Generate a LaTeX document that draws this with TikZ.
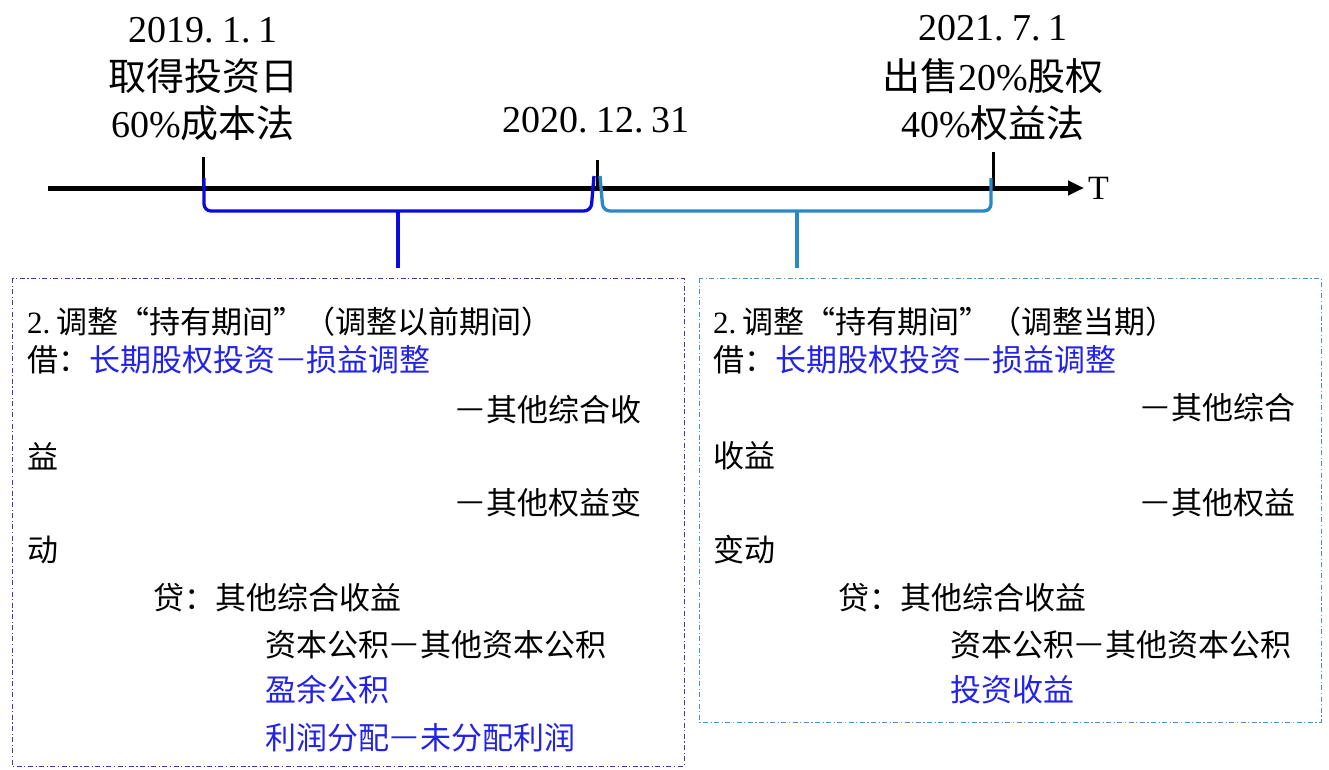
\documentclass[tikz,border=0pt]{standalone}
\usepackage{fontspec}
\usepackage{graphicx}
\setmainfont{Liberation Serif}
\newfontfamily\cjk{Noto Sans CJK SC}
\usetikzlibrary{arrows.meta}
\definecolor{bracea}{HTML}{0A0AE0}
\definecolor{braceb}{HTML}{2B88C8}
\definecolor{boxa}{HTML}{3A3AA0}
\definecolor{boxb}{HTML}{4F8FC8}
\definecolor{textblue}{HTML}{2222E8}
\newcommand{\pd}{.\hspace{0.22em}}
\newcommand{\dsh}{\makebox[1em][c]{\raisebox{0.1em}{—}}}
\begin{document}
\begin{tikzpicture}[x=1pt,y=-1pt,
  lbl/.style={font=\fontsize{38}{40}\selectfont, inner sep=0, anchor=center},
  txt/.style={font=\cjk\fontsize{31}{33}\selectfont, inner sep=0, anchor=west},
  bluetxt/.style={txt, text=textblue},
  tickline/.style={line width=3pt, black},
  bracepath/.style={line width=3.3pt, rounded corners=7pt},
  boxline/.style={line width=0.9pt, dash pattern=on 5pt off 2.5pt on 1.2pt off 2.5pt}]
\useasboundingbox (0,0) rectangle (1329,769);

% timeline
\coordinate (ax0) at (48,188);
\coordinate (ax1) at (1084,188);
\draw[line width=5pt, -{Triangle[length=16pt,width=14pt]}] (ax0) -- (ax1);
\node[font=\fontsize{34}{36}\selectfont, inner sep=0, anchor=west] (T) at (1088,188) {T};

% ticks
\coordinate (t1a) at (203,157); \coordinate (t1b) at (203,189);
\coordinate (t2a) at (597,160); \coordinate (t2b) at (597,189);
\coordinate (t3a) at (993,152); \coordinate (t3b) at (993,189);
\draw[tickline] (t1a) -- (t1b);
\draw[tickline] (t2a) -- (t2b);
\draw[tickline] (t3a) -- (t3b);

% labels
\node[lbl] (d1) at (203,30) {2019\pd 1\pd 1};
\node[lbl] (d1b) at (203,76) {\cjk 取得投资日};
\node[lbl] (d1c) at (203,123) {60\%{\cjk 成本法}};
\node[lbl] (d2) at (596,120) {2020\pd 12\pd 31};
\node[lbl] (d3) at (993,28) {2021\pd 7\pd 1};
\node[lbl] (d3b) at (993,76) {{\cjk 出售}20\%{\cjk 股权}};
\node[lbl] (d3c) at (993,123) {40\%{\cjk 权益法}};

% braces
\coordinate (b1s) at (204,178); \coordinate (b1l) at (204,211);
\coordinate (b1r) at (591,211); \coordinate (b1e) at (594,176);
\coordinate (b1m) at (398,211); \coordinate (b1t) at (398,268);
\draw[bracepath, bracea] (b1s) -- (b1l) -- (b1r) -- (b1e);
\draw[line width=4pt, bracea] (b1m) -- (b1t);
\coordinate (b2s) at (600,176); \coordinate (b2l) at (603,211);
\coordinate (b2r) at (991,211); \coordinate (b2e) at (991,178);
\coordinate (b2m) at (797,211); \coordinate (b2t) at (797,268);
\draw[bracepath, braceb] (b2s) -- (b2l) -- (b2r) -- (b2e);
\draw[line width=4pt, braceb] (b2m) -- (b2t);

% boxes
\coordinate (la) at (12,278); \coordinate (lb) at (684,766);
\coordinate (ra) at (699,278); \coordinate (rb) at (1321,722);
\draw[boxline, boxa] (la) rectangle (lb);
\draw[boxline, boxb] (ra) rectangle (rb);

% left box text
\node[txt] (l1) at (27,322) {{\rmfamily 2.\hspace{0.2em}}调整“持有期间”（调整以前期间）};
\node[txt] (l2) at (27,360) {借：};
\node[bluetxt] (l2b) at (l2.east) {长期股权投资\dsh 损益调整};
\node[txt] (l3) at (455,410) {\dsh 其他综合收};
\node[txt] (l4) at (27,456) {益};
\node[txt] (l5) at (455,503) {\dsh 其他权益变};
\node[txt] (l6) at (27,550) {动};
\node[txt] (l7) at (153,598) {贷：其他综合收益};
\node[txt] (l8) at (265,645) {资本公积\dsh 其他资本公积};
\node[bluetxt] (l9) at (265,690) {盈余公积};
\node[bluetxt] (l10) at (265,738) {利润分配\dsh 未分配利润};

% right box text
\node[txt] (r1) at (713,322) {{\rmfamily 2.\hspace{0.2em}}调整“持有期间”（调整当期）};
\node[txt] (r2) at (713,360) {借：};
\node[bluetxt] (r2b) at (r2.east) {长期股权投资\dsh 损益调整};
\node[txt] (r3) at (1140,408) {\dsh 其他综合};
\node[txt] (r4) at (713,456) {收益};
\node[txt] (r5) at (1140,503) {\dsh 其他权益};
\node[txt] (r6) at (713,550) {变动};
\node[txt] (r7) at (838,598) {贷：其他综合收益};
\node[txt] (r8) at (950,645) {资本公积\dsh 其他资本公积};
\node[bluetxt] (r9) at (950,690) {投资收益};
\end{tikzpicture}
\end{document}
